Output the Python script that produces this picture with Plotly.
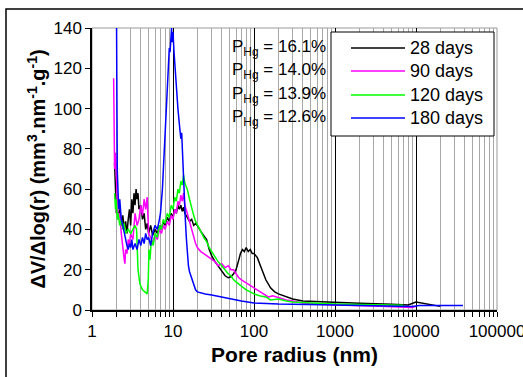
import plotly.graph_objects as go

# ---------------- data ----------------
series_names = ["28 days", "90 days", "120 days", "180 days"]
series_colors = ["#000000", "#FF00FF", "#00FF00", "#0000FF"]
phg_labels = ["16.1%", "14.0%", "13.9%", "12.6%"]

r_28 = [1.9, 1.95, 2.0, 2.05, 2.1, 2.2, 2.3, 2.4, 2.5, 2.6, 2.7, 2.8, 2.9, 3.0, 3.1, 3.2, 3.3, 3.4, 3.5,
        3.6, 3.7, 3.8, 4.0, 4.2, 4.4, 4.6, 4.8, 5.0, 5.3, 5.6, 6.0, 6.4, 6.8, 7.2, 7.6, 8.0, 8.5, 9.0,
        9.5, 10, 10.5, 11, 11.5, 12, 12.5, 13, 13.5, 14, 15, 16, 17, 18, 19, 20, 22, 24, 26, 28, 30,
        33, 36, 40, 44, 48, 52, 56, 60, 64, 68, 72, 76, 80, 85, 90, 95, 100, 110, 120, 130, 140, 160,
        180, 200, 250, 300, 400, 700, 1000, 2000, 5000, 8000, 10000, 14000, 20000]
v_28 = [73, 55, 48, 52, 45, 50, 42, 47, 40, 44, 38, 45, 50, 42, 55, 48, 58, 52, 60,
        55, 58, 50, 52, 45, 48, 40, 43, 38, 42, 37, 40, 38, 42, 40, 44, 42, 46, 44,
        48, 46, 50, 48, 52, 50, 52, 49, 51, 48, 46, 44, 45, 42, 43, 42, 39, 37, 35, 30, 27,
        24, 22, 19, 17, 16, 16.5, 18, 20, 24, 28, 30, 29, 31, 29, 30, 28, 28, 26, 22, 18, 15, 11,
        9, 8, 6.5, 5.5, 4.5, 4, 3.8, 3.3, 2.8, 2.5, 4, 3, 1.8]

r_90 = [1.85, 1.9, 1.95, 2.0, 2.05, 2.1, 2.2, 2.3, 2.4, 2.5, 2.55, 2.6, 2.7, 2.8, 2.9, 3.0, 3.2, 3.4,
        3.6, 3.8, 4.0, 4.2, 4.4, 4.6, 4.8, 5.0, 5.3, 5.6, 6.0, 6.4, 6.8, 7.2, 7.6, 8.0, 8.5, 9.0, 9.5,
        10, 10.5, 11, 11.5, 12, 12.5, 13, 13.5, 14, 15, 16, 17, 18, 19, 20, 22, 24, 26, 28, 30, 33,
        36, 40, 44, 48, 52, 56, 60, 65, 70, 80, 90, 100, 110, 130, 150, 170, 200, 250, 300, 400,
        600, 1000, 3000, 9000, 10000]
v_90 = [115, 70, 78, 60, 55, 45, 48, 38, 30, 25, 23, 30, 28, 35, 32, 38, 35, 48,
        42, 45, 52, 47, 55, 50, 56, 38, 36, 33, 37, 35, 40, 38, 42, 40, 44, 42, 47,
        45, 50, 48, 54, 52, 57, 54, 58, 52, 48, 44, 40, 36, 33, 31, 29, 28, 27, 26, 25, 24,
        22, 23, 21, 22, 20, 20, 18, 16, 15, 13.5, 12, 11, 10, 8, 6.5, 7, 6, 5, 4.5, 3.5,
        3, 2.5, 2, 1.3, 1.8]

r_120 = [1.9, 1.95, 2.0, 2.05, 2.1, 2.2, 2.3, 2.4, 2.5, 2.6, 2.8, 3.0, 3.2, 3.4, 3.55, 3.7, 3.9,
         4.2, 4.5, 4.8, 4.95, 5.05, 5.2, 5.4, 5.7, 6.0, 6.4, 6.8, 7.2, 7.6, 8.0, 8.5, 9.0, 9.5, 10,
         10.5, 11, 11.5, 12, 12.5, 13, 13.5, 14, 15, 16, 17, 18, 19, 20, 22, 24, 26, 28, 30, 33, 36,
         40, 44, 48, 52, 56, 60, 70, 80, 90, 100, 120, 140, 160, 200, 250, 300, 500, 1000, 3000, 7000]
v_120 = [58, 50, 55, 45, 48, 42, 45, 40, 43, 38, 40, 38, 40, 42, 40, 20, 13,
         10, 9, 8, 15, 30, 25, 35, 32, 38, 36, 42, 40, 45, 43, 48, 46, 52, 50,
         56, 54, 60, 58, 64, 62, 67, 63, 60, 55, 50, 47, 44, 42, 39, 36, 34, 31, 29, 26, 24,
         22, 20, 18, 17, 15, 14, 12, 10, 9, 8, 7, 6.5, 5, 5.5, 4.5, 4, 3.5, 3, 2.6, 2.4]

r_180 = [2.0, 2.02, 2.05, 2.1, 2.15, 2.2, 2.3, 2.4, 2.5, 2.6, 2.7, 2.8, 2.9, 3.0, 3.1, 3.2, 3.4,
         3.6, 3.8, 4.0, 4.2, 4.4, 4.6, 4.8, 5.0, 5.3, 5.6, 6.0, 6.4, 6.8, 7.0, 7.4, 7.8, 8.2, 8.6,
         8.8, 9.0, 9.2, 9.4, 9.6, 9.8, 10.0, 10.3, 10.6, 11.0, 11.5, 12.0, 12.5, 12.8, 13.2, 13.5,
         13.8, 14.2, 14.6, 15.0, 15.5, 16, 17, 18, 19, 20, 22, 25, 30, 40, 50, 70, 100, 200, 1000,
         5000, 9000, 11000, 20000, 38000]
v_180 = [160, 100, 70, 58, 50, 55, 45, 42, 38, 35, 32, 30, 33, 31, 35, 30, 33,
         30, 35, 32, 36, 33, 38, 35, 36, 32, 38, 42, 40, 45, 48, 60, 80, 100, 115,
         122, 130, 128, 135, 140, 133, 138, 128, 120, 112, 100, 92, 85, 88, 74, 60,
         52, 45, 36, 28, 22, 19, 16, 13, 10, 9, 8.5, 8, 7.5, 6.5, 5.5, 4.5, 3.5, 3, 2.5,
         1.8, 1.7, 2.2, 2.2, 2.2]

x_tickvals = [1, 10, 100, 1000, 10000, 100000]
x_ticktext = ["1", "10", "100", "1000", "10000", "100000"]
y_tickvals = [0, 20, 40, 60, 80, 100, 120, 140]

radii = [r_28, r_90, r_120, r_180]
values = [v_28, v_90, v_120, v_180]

# ---------------- layout geometry (pixels) ----------------
W, H = 523, 377
L, R, T, B = 92, 497, 28, 310
FONT = "Liberation Sans, Arial, sans-serif"


def xp(px):
    return (px - L) / (R - L)


def yp(py):
    return (B - py) / (B - T)


fig = go.Figure()
for name, col, rr, vv in zip(series_names, series_colors, radii, values):
    fig.add_trace(go.Scatter(x=rr, y=vv, mode="lines", name=name,
                             line=dict(color=col, width=1.5), showlegend=False))

shapes = []
annotations = []

# outer chart frame
shapes.append(dict(type="rect", xref="paper", yref="paper",
                   x0=xp(6), x1=xp(560), y0=yp(420), y1=yp(9),
                   line=dict(color="black", width=1.5), fillcolor="rgba(0,0,0,0)", layer="below"))
# plot area border (gray)
shapes.append(dict(type="rect", xref="paper", yref="paper", x0=0, x1=1, y0=0, y1=1,
                   line=dict(color="#999999", width=1), layer="below"))

# manual legend
shapes.append(dict(type="rect", xref="paper", yref="paper",
                   x0=xp(331), x1=xp(494), y0=yp(136), y1=yp(32),
                   line=dict(color="black", width=1), fillcolor="white", layer="above"))
rows = [48, 71, 95, 118]
for i, (name, col, lab) in enumerate(zip(series_names, series_colors, phg_labels)):
    y = yp(rows[i])
    shapes.append(dict(type="line", xref="paper", yref="paper", x0=xp(351), x1=xp(405),
                       y0=y, y1=y, line=dict(color=col, width=1.5), layer="above"))
    annotations.append(dict(xref="paper", yref="paper", x=xp(408), y=y, text=name,
                            showarrow=False, xanchor="left", yanchor="middle",
                            font=dict(family=FONT, size=18, color="black")))
    annotations.append(dict(xref="paper", yref="paper", x=xp(328), y=y,
                            text="P<sub>Hg</sub> = " + lab,
                            showarrow=False, xanchor="right", yanchor="middle",
                            font=dict(family=FONT, size=17, color="black")))

fig.update_layout(
    width=W, height=H,
    margin=dict(l=L, r=W - R, t=T, b=H - B),
    paper_bgcolor="white", plot_bgcolor="white",
    font=dict(family=FONT, size=17, color="black"),
    shapes=shapes, annotations=annotations,
    showlegend=False,
)

fig.update_xaxes(
    type="log", range=[0, 5], automargin=False,
    tickvals=x_tickvals, ticktext=x_ticktext,
    ticks="outside", ticklen=5, tickcolor="black",
    ticklabeloverflow="allow",
    showline=True, linecolor="black", linewidth=1.5,
    showgrid=True, gridcolor="#000000", gridwidth=1,
    minor=dict(dtick="D1", ticks="outside", ticklen=5, tickcolor="black",
               showgrid=True, gridcolor="#a8a8a8", gridwidth=1),
    zeroline=False,
    tickfont=dict(family=FONT, size=17),
    title=dict(text="<b>Pore radius (nm)</b>", font=dict(family=FONT, size=21), standoff=7),
)
fig.update_yaxes(
    range=[0, 140], tickvals=y_tickvals, automargin=False,
    ticks="outside", ticklen=5, tickcolor="black",
    showline=True, linecolor="black", linewidth=1.5,
    showgrid=False, zeroline=False,
    tickfont=dict(family=FONT, size=17),
    title=dict(text="<b>ΔV/Δlog(r) (mm<sup>3</sup>.nm<sup>-1</sup>.g<sup>-1</sup>)</b>",
               font=dict(family=FONT, size=20), standoff=2),
)

fig.write_html("out.html")
